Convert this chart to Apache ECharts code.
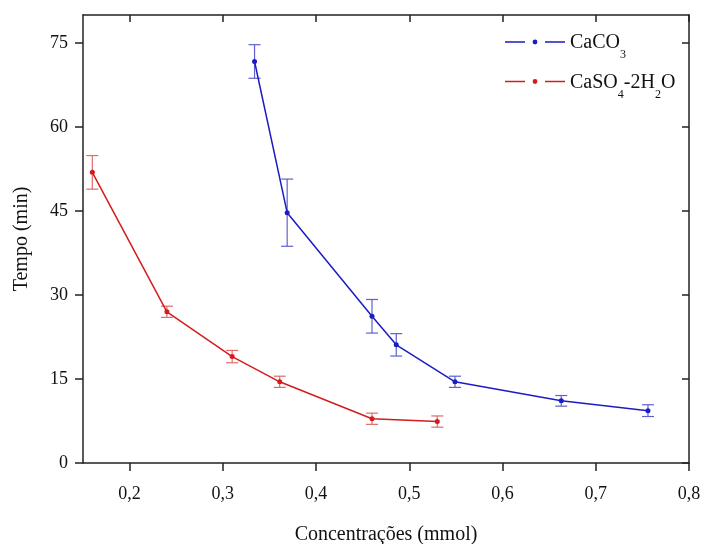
<!DOCTYPE html>
<html>
<head>
<meta charset="utf-8">
<script src="https://cdn.jsdelivr.net/npm/echarts@6/dist/echarts.min.js"></script>
<style>
  html, body { margin: 0; padding: 0; background: #fff; }
  #chart { width: 702px; height: 544px; }
</style>
</head>
<body>
<div id="chart"></div>
<script>
// data
var cacoX = [0.334, 0.369, 0.46, 0.486, 0.549, 0.663, 0.756];
var cacoY = [71.7, 44.7, 26.2, 21.1, 14.5, 11.1, 9.35];
var cacoErr = [3.0, 6.0, 3.0, 2.0, 1.0, 0.95, 1.05];

var casoX = [0.16, 0.24, 0.31, 0.361, 0.46, 0.53];
var casoY = [51.9, 27.0, 19.0, 14.5, 7.9, 7.4];
var casoErr = [3.0, 1.0, 1.1, 1.0, 1.0, 1.0];

var xTicks = [0.2, 0.3, 0.4, 0.5, 0.6, 0.7, 0.8];
var yTicks = [0, 15, 30, 45, 60, 75];

var BLUE = '#1c1cc4';
var BLUE_ERR = '#6060d0';
var RED = '#d41c1c';
var RED_ERR = '#e26a6a';
var AXIS = '#222';
var FONT = '"Liberation Serif", "Times New Roman", serif';

const pairs = (xs, ys) => xs.map((x, i) => [x, ys[i]]);
const bars = (xs, ys, es) => xs.map((x, i) => [x, ys[i] - es[i], ys[i] + es[i]]);

// vertical error bar with caps
const errorBarRender = color => (params, api) => {
  var lo = api.coord([api.value(0), api.value(1)]);
  var hi = api.coord([api.value(0), api.value(2)]);
  var w = 6;
  var style = { stroke: color, lineWidth: 1.2, fill: null };
  return {
    type: 'group',
    children: [
      { type: 'line', shape: { x1: lo[0], y1: lo[1], x2: hi[0], y2: hi[1] }, style: style },
      { type: 'line', shape: { x1: lo[0] - w, y1: lo[1], x2: lo[0] + w, y2: lo[1] }, style: style },
      { type: 'line', shape: { x1: hi[0] - w, y1: hi[1], x2: hi[0] + w, y2: hi[1] }, style: style }
    ]
  };
};

// legend icon: dash, dot, dash
var legendIcon = 'path://M0,2h20v1.5H0z M40,2h20v1.5H40z M27.6,2.75a2.4,2.4 0 1,0 4.8,0a2.4,2.4 0 1,0 -4.8,0z';

var chart = echarts.init(document.getElementById('chart'));

var axisLine = { show: true, onZero: false, lineStyle: { color: AXIS, width: 1.5 } };

chart.setOption({
  animation: false,
  backgroundColor: '#fff',
  grid: { left: 83, right: 13, top: 15, bottom: 81, containLabel: false, outerBoundsMode: 'none' },
  legend: {
    orient: 'vertical',
    left: 500,
    top: 26,
    itemWidth: 60,
    itemHeight: 14,
    itemGap: 9.5,
    data: [
      { name: 'CaCO3', icon: legendIcon },
      { name: 'CaSO4-2H2O', icon: legendIcon }
    ],
    formatter: name => name === 'CaCO3'
      ? '{n|CaCO}{s|3}'
      : '{n|CaSO}{s|4}{n|-2H}{s|2}{n|O}',
    textStyle: {
      rich: {
        n: { fontFamily: FONT, fontSize: 20, color: '#111', lineHeight: 22, verticalAlign: 'top', padding: [2, 0, 0, 0] },
        s: { fontFamily: FONT, fontSize: 12, color: '#111', lineHeight: 12, verticalAlign: 'top', padding: [18, 0, 0, 0] }
      }
    }
  },
  xAxis: [
    {
      type: 'value',
      position: 'bottom',
      min: 0.15,
      max: 0.8,
      axisLine: axisLine,
      splitLine: { show: false },
      axisTick: { show: true, inside: false, length: 8, customValues: xTicks, lineStyle: { color: AXIS, width: 1.5 } },
      axisLabel: {
        customValues: xTicks,
        margin: 22,
        color: '#111',
        fontFamily: FONT,
        fontSize: 18,
        formatter: v => String(Math.round(v * 10) / 10).replace('.', ',')
      },
      name: 'Concentrações (mmol)',
      nameLocation: 'middle',
      nameGap: 62,
      nameTextStyle: { fontFamily: FONT, fontSize: 20, color: '#111' }
    },
    {
      type: 'value',
      position: 'top',
      min: 0.15,
      max: 0.8,
      axisLine: axisLine,
      splitLine: { show: false },
      axisTick: { show: true, inside: true, length: 7, customValues: xTicks, lineStyle: { color: AXIS, width: 1.5 } },
      axisLabel: { show: false }
    }
  ],
  yAxis: [
    {
      type: 'value',
      position: 'left',
      min: 0,
      max: 80,
      axisLine: axisLine,
      splitLine: { show: false },
      axisTick: { show: true, inside: false, length: 8, customValues: yTicks, lineStyle: { color: AXIS, width: 1.5 } },
      axisLabel: { customValues: yTicks, margin: 15, color: '#111', fontFamily: FONT, fontSize: 18 },
      name: 'Tempo (min)',
      nameLocation: 'middle',
      nameGap: 51,
      nameTextStyle: { fontFamily: FONT, fontSize: 20, color: '#111' }
    },
    {
      type: 'value',
      position: 'right',
      min: 0,
      max: 80,
      axisLine: axisLine,
      splitLine: { show: false },
      axisTick: { show: true, inside: true, length: 7, customValues: yTicks, lineStyle: { color: AXIS, width: 1.5 } },
      axisLabel: { show: false }
    }
  ],
  series: [
    {
      name: 'CaCO3',
      type: 'line',
      data: pairs(cacoX, cacoY),
      symbol: 'circle',
      symbolSize: 5,
      itemStyle: { color: BLUE },
      lineStyle: { color: BLUE, width: 1.5 },
      z: 3
    },
    {
      name: 'CaSO4-2H2O',
      type: 'line',
      data: pairs(casoX, casoY),
      symbol: 'circle',
      symbolSize: 5,
      itemStyle: { color: RED },
      lineStyle: { color: RED, width: 1.5 },
      z: 3
    },
    {
      type: 'custom',
      name: 'caco-err',
      renderItem: errorBarRender(BLUE_ERR),
      data: bars(cacoX, cacoY, cacoErr),
      encode: { x: 0, y: [1, 2] },
      z: 2
    },
    {
      type: 'custom',
      name: 'caso-err',
      renderItem: errorBarRender(RED_ERR),
      data: bars(casoX, casoY, casoErr),
      encode: { x: 0, y: [1, 2] },
      z: 2
    }
  ]
});
</script>
</body>
</html>
